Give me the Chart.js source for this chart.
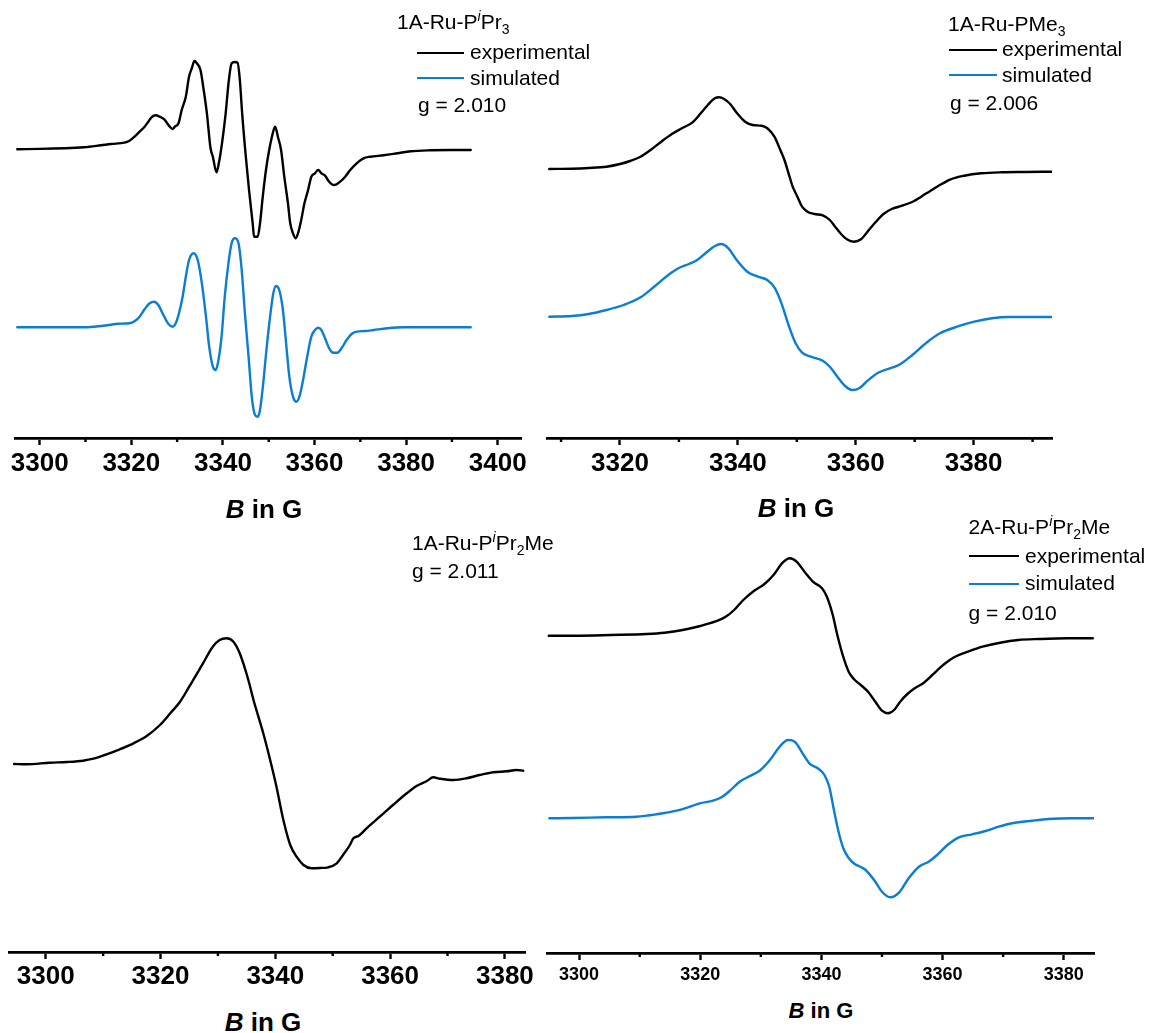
<!DOCTYPE html>
<html>
<head>
<meta charset="utf-8">
<script src="https://cdn.jsdelivr.net/npm/chart.js@4.4.1/dist/chart.umd.min.js"></script>
<style>
html,body{margin:0;padding:0;background:#fff;}
body{width:1156px;height:1033px;position:relative;overflow:hidden;font-family:"Liberation Sans",Arial,sans-serif;color:#000;}
canvas{position:absolute;}
.t{position:absolute;white-space:nowrap;font-size:21px;line-height:21px;}
.ax{position:absolute;white-space:nowrap;font-weight:bold;font-size:26px;line-height:26px;transform:translateX(-50%);}
.sw{position:absolute;height:0;border-top:2.5px solid #000;}
.sw.b{border-top-color:#0a7ed2;}
sub,sup{font-size:14px;line-height:0;}
</style>
</head>
<body>
<script>
// ---------- DATA (B in G, intensity in arbitrary units) ----------
// Panel 1: 1A-Ru-PiPr3
const p1ExpB = [3295.1,3309.7,3313.4,3315.6,3318.5,3319.6,3320.7,3321.8,3322.9,3323.7,3324.4,3325.3,3326.2,3327.2,3328.1,3329.0,3329.5,3330.3,3331.0,3331.9,3332.6,3333.2,3333.8,3334.3,3335.1,3335.8,3336.5,3337.3,3337.8,3338.6,3339.1,3339.8,3340.6,3341.3,3341.9,3342.6,3343.2,3343.7,3344.2,3345.0,3345.7,3346.5,3346.8,3347.6,3348.1,3348.7,3349.4,3350.1,3350.7,3351.4,3352.0,3352.7,3353.4,3354.2,3354.7,3355.3,3355.9,3356.4,3357.1,3357.8,3358.6,3359.3,3360.1,3360.8,3361.5,3362.3,3363.2,3364.1,3364.8,3365.6,3366.7,3367.8,3369.2,3370.7,3372.2,3375.1,3378.1,3381.0,3385.4,3389.8,3394.1];
const p1ExpI = [288.7,290.7,292.7,294,295.3,297.3,301.3,306.3,311.3,316.3,320.7,322.7,321.3,318.7,313,309,311.3,314.7,328,341.3,361.3,369.7,377,374.7,368,348,324.7,289.7,281.3,265.7,274.7,294.7,324.7,358,374.7,376,375.3,358,324.7,281.3,248,214.7,201.3,201.3,214.7,241.3,268,288,301.3,311.3,301.3,288,261.3,234.7,214.7,204.7,199.7,204.7,218,234.7,248,261.3,264.7,268,264.7,262.3,256.3,253,253.7,256.3,261.3,268,274.7,279.7,281.3,282.7,284.7,286.7,287.7,288,288];
const p1SimB = [3295.1,3309.7,3313.4,3315.6,3317.0,3319.6,3320.7,3321.8,3322.9,3324.0,3325.0,3325.9,3327.0,3328.1,3329.0,3329.7,3330.4,3331.2,3331.9,3332.6,3333.6,3334.5,3335.4,3336.3,3337.0,3337.8,3338.4,3338.9,3339.7,3340.4,3341.2,3341.9,3342.6,3343.4,3344.1,3344.8,3345.6,3346.3,3347.0,3347.6,3348.1,3348.8,3349.5,3350.3,3351.0,3351.6,3352.3,3353.1,3353.8,3354.5,3355.3,3356.0,3356.7,3357.5,3358.4,3359.3,3360.1,3360.8,3361.5,3362.3,3363.2,3364.1,3365.0,3365.9,3367.0,3368.1,3369.2,3371.1,3372.9,3375.9,3379.5,3394.1];
const p1SimI = [110.7,110.7,112,113.3,114.3,114.7,116.7,121.3,128.7,134.7,136.3,133,123,114,111.3,114.7,124.7,141.3,161.3,178,184.7,178,154.7,121.3,91.3,71.3,68,74.7,101.3,141.3,174.7,194.7,199.7,194.7,168,124.7,81.3,41.3,23,21.3,28,54.7,88,121.3,144.7,152,148,128,94.7,61.3,41.3,36.3,41.3,58,81.3,101.3,108,110.3,108,99.7,89.7,85.3,85.3,89.7,98,104,106.3,107,108,109.7,110.7,110.7];
const p1Ticks = [3300,3320,3340,3360,3380,3400];
const p1Minor = [3310,3330,3350,3370,3390];

// Panel 2: 1A-Ru-PMe3
const p2ExpB = [3308.0,3311.8,3314.7,3317.7,3320.0,3321.7,3323.5,3325.2,3327.0,3328.8,3330.5,3332.3,3333.7,3334.9,3336.1,3336.8,3337.6,3338.7,3339.8,3341.3,3342.5,3344.0,3345.0,3346.2,3347.2,3347.9,3348.6,3349.3,3350.1,3350.9,3351.8,3353.0,3354.4,3355.6,3356.5,3357.4,3358.5,3359.7,3360.9,3362.0,3363.2,3364.7,3366.1,3367.9,3369.9,3372.0,3374.0,3376.1,3378.4,3381.3,3384.8,3388.9,3393.3];
const p2ExpI = [269,269.3,270,271.3,274,277,281.3,288,296.3,304,309.7,315.7,324.7,333,339.7,340.7,339.3,334,325.3,316,313,312.3,309.7,301.3,288,278,264.7,251.3,241.3,231.3,226.3,224,222.7,218,211.3,204.7,198.7,196.3,198.7,206.3,214.7,224,229,232.3,237,244.7,252,258.7,262.3,264.7,265.7,266,266.3];
const p2SimB = [3308.0,3311.8,3314.7,3317.7,3320.6,3323.5,3325.8,3328.2,3329.9,3331.7,3333.1,3334.6,3336.1,3337.2,3338.4,3339.8,3341.6,3343.4,3345.0,3346.3,3347.4,3348.6,3349.8,3350.9,3352.4,3354.4,3355.6,3356.8,3358.2,3359.4,3360.6,3362.0,3363.8,3365.8,3367.3,3369.6,3372.0,3374.3,3377.2,3380.1,3383.1,3386.0,3393.3];
const p2SimI = [121.3,122,124,128,133,140.7,151.3,163,169.7,174,178,185.3,192,194,189.7,178,166.3,161.3,158,149.7,134.7,113,94.7,85.3,81.3,77.3,71.3,62,52,48,49.7,57.3,65.3,69.7,73,83,95.3,104.7,111.3,116.3,119.7,121,121];
const p2Ticks = [3320,3340,3360,3380];
const p2Minor = [3310,3330,3350,3370,3390];

// Panel 3: 1A-Ru-PiPr2Me
const p3ExpB = [3294.5,3296.7,3300.7,3303.7,3306.5,3308.3,3310.6,3312.9,3315.3,3317.6,3319.9,3321.7,3323.4,3325.0,3327.4,3329.1,3330.3,3331.5,3332.7,3333.8,3335.3,3336.2,3337.9,3339.1,3340.2,3341.4,3342.6,3343.7,3344.9,3346.3,3347.8,3349.2,3350.7,3351.8,3353.0,3353.6,3354.5,3355.9,3358.2,3360.5,3362.9,3364.6,3366.4,3367.5,3368.7,3371.0,3373.3,3375.6,3378.0,3380.3,3382.0,3383.2];
const p3ExpI = [188,187.7,189.3,190,191.3,193.3,197.7,202.7,208.7,216,227,238.7,250.3,265.3,288.7,305.3,312,313.7,310.3,298.7,272,252,218.7,192,165.3,132,107,95.3,87,83.7,84,84.7,88.7,97,107,113.7,116,123.7,135.3,147,158.7,166,171,174.7,173.3,172,173.7,177,179.7,180.7,182,181.3];
const p3Ticks = [3300,3320,3340,3360,3380];
const p3Minor = [3310,3330,3350,3370];

// Panel 4: 2A-Ru-PiPr2Me
const p4ExpB = [3295.0,3299.4,3305.3,3311.2,3314.1,3317.1,3320.0,3322.4,3324.2,3325.6,3327.1,3328.9,3330.6,3332.1,3333.6,3334.8,3335.9,3337.4,3338.6,3340.1,3340.9,3341.8,3342.7,3343.6,3344.5,3345.4,3346.5,3347.7,3348.9,3350.0,3351.0,3352.0,3353.0,3354.2,3355.4,3356.8,3358.3,3360.1,3361.9,3364.2,3366.6,3369.5,3372.5,3376.0,3380.7,3384.8];
const p4ExpI = [317.3,317.3,318,319,320.3,323,327,331.3,336.3,343,353,362.3,369,378,390.3,394.7,391.3,379.7,371.3,364.7,356.3,339.7,316.3,296.3,281.3,273.7,268,261.3,251.3,242.3,239.7,243,251.3,259,264.7,269.7,278,288,295.7,301.3,306.3,310.3,313,314,314.7,314.7];
const p4SimB = [3295.1,3299.0,3304.5,3309.5,3312.8,3316.1,3318.3,3319.9,3322.1,3323.5,3324.9,3326.5,3328.2,3329.8,3331.5,3333.1,3334.5,3335.6,3336.9,3338.0,3339.4,3340.5,3341.3,3342.0,3342.8,3343.6,3344.5,3345.5,3346.5,3347.3,3348.9,3350.0,3351.4,3352.8,3354.4,3356.1,3357.7,3359.1,3360.8,3362.7,3364.9,3367.1,3369.3,3371.5,3374.8,3377.5,3381.4,3384.9];
const p4SimI = [134.7,135,135.7,136.3,138.7,142.3,146.3,149.7,152.3,155.7,162.3,171.3,177,182.3,193,206.3,213,211.3,199.7,189.7,184.7,178,166.3,145,122,105,95,89,86,83,71.3,61.3,55.7,60.3,74.7,86.3,91.3,98,108,115.7,118.7,122,126.3,129.7,132.3,134,134.7,134.7];
const p4Ticks = [3300,3320,3340,3360,3380];
const p4Minor = [3310,3330,3350,3370];

// ---------- RENDERING ----------
const BLACK = '#000000', BLUE = '#0a7ed2';

function minorTicks(vals) {
  return {
    id: 'minorTicks',
    afterDraw(chart) {
      const s = chart.scales.x, ctx = chart.ctx;
      ctx.save();
      ctx.strokeStyle = '#000'; ctx.lineWidth = 2.4;
      ctx.beginPath();
      vals.forEach(v => { const px = s.getPixelForValue(v); ctx.moveTo(px, s.top); ctx.lineTo(px, s.top + 4); });
      ctx.stroke();
      ctx.restore();
    }
  };
}

function panel(o) {
  const cv = document.createElement('canvas');
  cv.width = o.w; cv.height = o.h;
  cv.style.left = o.left + 'px'; cv.style.top = o.top + 'px';
  cv.style.width = o.w + 'px'; cv.style.height = o.h + 'px';
  document.body.appendChild(cv);
  new Chart(cv, {
    type: 'line',
    data: {
      datasets: o.series.map(s => ({
        label: s.label,
        data: s.b.map((b, i) => ({ x: b, y: s.v[i] })),
        borderColor: s.color, borderWidth: 2.4, pointRadius: 0,
        cubicInterpolationMode: 'monotone', fill: false,
        borderJoinStyle: 'round', borderCapStyle: 'round'
      }))
    },
    options: {
      responsive: false, animation: false, devicePixelRatio: 1,
      layout: { padding: { left: o.padL, right: o.padR, top: o.padT, bottom: 0 } },
      plugins: { legend: { display: false }, tooltip: { enabled: false } },
      scales: {
        x: {
          type: 'linear', min: o.xmin, max: o.xmax,
          afterFit: s => { s.height = o.h - o.axisY; },
          afterBuildTicks: s => { s.ticks = o.ticks.map(v => ({ value: v })); },
          ticks: { autoSkip: false, maxRotation: 0, padding: o.tickPad, color: '#000',
                   callback: v => String(v),
                   font: { family: 'Liberation Sans', weight: 'bold', size: o.fs } },
          grid: { display: true, drawOnChartArea: false, drawTicks: true, tickLength: 7, tickWidth: 2.4, tickColor: '#000' },
          border: { display: true, color: '#000', width: 2.8 }
        },
        y: { display: false, min: 0, max: o.axisY - o.padT }
      }
    },
    plugins: [minorTicks(o.minor)]
  });
}

panel({ left: 0, top: 0, w: 530, h: 480, axisY: 438, padL: 15, padR: 8, padT: 10,
  xmin: 3294.6, xmax: 3405.2, ticks: p1Ticks, minor: p1Minor, fs: 26, tickPad: 3,
  series: [ { label: 'experimental', b: p1ExpB, v: p1ExpI, color: BLACK },
            { label: 'simulated', b: p1SimB, v: p1SimI, color: BLUE } ] });

panel({ left: 530, top: 0, w: 626, h: 480, axisY: 438, padL: 17.5, padR: 104, padT: 10,
  xmin: 3307.7, xmax: 3393.3, ticks: p2Ticks, minor: p2Minor, fs: 26, tickPad: 3,
  series: [ { label: 'experimental', b: p2ExpB, v: p2ExpI, color: BLACK },
            { label: 'simulated', b: p2SimB, v: p2SimI, color: BLUE } ] });

panel({ left: 0, top: 500, w: 540, h: 494, axisY: 452, padL: 9, padR: 15, padT: 10,
  xmin: 3293.6, xmax: 3383.5, ticks: p3Ticks, minor: p3Minor, fs: 26, tickPad: 2,
  series: [ { label: 'experimental', b: p3ExpB, v: p3ExpI, color: BLACK } ] });

panel({ left: 540, top: 500, w: 616, h: 495, axisY: 453, padL: 7, padR: 62, padT: 10,
  xmin: 3294.7, xmax: 3385.0, ticks: p4Ticks, minor: p4Minor, fs: 18, tickPad: 4,
  series: [ { label: 'experimental', b: p4ExpB, v: p4ExpI, color: BLACK },
            { label: 'simulated', b: p4SimB, v: p4SimI, color: BLUE } ] });

// ---------- TEXT ----------
function txt(html, x, y, cls, extra) {
  const d = document.createElement('div');
  d.className = cls; d.innerHTML = html;
  d.style.left = x + 'px'; d.style.top = y + 'px';
  if (extra) Object.assign(d.style, extra);
  document.body.appendChild(d);
}
function sw(x, y, w, blue) {
  const d = document.createElement('div');
  d.className = 'sw' + (blue ? ' b' : '');
  d.style.left = x + 'px'; d.style.top = (y - 1.25) + 'px'; d.style.width = w + 'px';
  document.body.appendChild(d);
}

// Panel 1
txt('1A-Ru-P<sup><i>i</i></sup>Pr<sub>3</sub>', 397, 11, 't');
sw(417, 53.3, 47, false); txt('experimental', 470, 41.4, 't');
sw(417, 78.7, 47, true);  txt('simulated', 470, 66.8, 't');
txt('g = 2.010', 418, 94.3, 't');
txt('<i>B</i> in G', 264, 496, 'ax');

// Panel 2
txt('1A-Ru-PMe<sub>3</sub>', 948, 13, 't');
sw(948.7, 50.3, 48.3, false); txt('experimental', 1002, 38.1, 't');
sw(948.7, 75.7, 48.3, true);  txt('simulated', 1002, 63.5, 't');
txt('g = 2.006', 950, 91.8, 't');
txt('<i>B</i> in G', 796, 495, 'ax');

// Panel 3
txt('1A-Ru-P<sup><i>i</i></sup>Pr<sub>2</sub>Me', 412, 531.8, 't');
txt('g = 2.011', 412, 560.1, 't');
txt('<i>B</i> in G', 263, 1009.4, 'ax');

// Panel 4
txt('2A-Ru-P<sup><i>i</i></sup>Pr<sub>2</sub>Me', 968.6, 516, 't');
sw(968.6, 556.7, 50, false); txt('experimental', 1025, 544.5, 't');
sw(968.6, 584, 50, true);    txt('simulated', 1025, 571.8, 't');
txt('g = 2.010', 968.6, 601.8, 't');
txt('<i>B</i> in G', 821, 999.6, 'ax', { fontSize: '22px', lineHeight: '22px' });
</script>
</body>
</html>
